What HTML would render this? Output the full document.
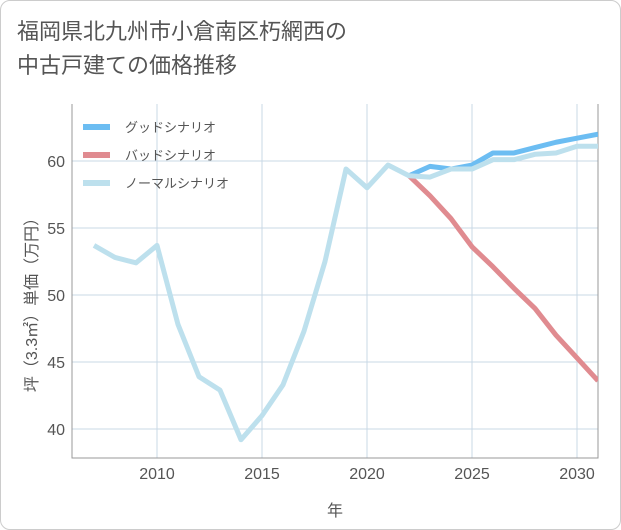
<!DOCTYPE html>
<html><head><meta charset="utf-8"><style>
body{margin:0;background:#fff;}
#card{position:absolute;left:0;top:0;width:619px;height:528px;border:1px solid #ccc;border-radius:10px;background:#fff;overflow:hidden;}
.t{font-family:"Liberation Sans","Noto Sans CJK JP",sans-serif;}
#title{position:absolute;left:16px;top:14px;font-size:22px;line-height:34px;color:#555;}
</style></head><body>
<div id="card">
<div id="title" class="t">福岡県北九州市小倉南区朽網西の<br>中古戸建ての価格推移</div>
<svg id="chart" width="621" height="530" style="position:absolute;left:0;top:0"></svg>
</div>
<script>
const years=[2007,2008,2009,2010,2011,2012,2013,2014,2015,2016,2017,2018,2019,2020,2021,2022,2023,2024,2025,2026,2027,2028,2029,2030,2031];
const normalValues=[53.7,52.8,52.4,53.7,47.8,43.9,42.9,39.2,41.0,43.3,47.3,52.5,59.4,58.0,59.7,58.9,58.8,59.4,59.4,60.1,60.1,60.5,60.6,61.1,61.1];
const futureYears=[2022,2023,2024,2025,2026,2027,2028,2029,2030,2031];
const goodValues=[58.9,59.6,59.4,59.7,60.6,60.6,61.0,61.4,61.7,62.0];
const badValues=[58.9,57.4,55.7,53.6,52.1,50.5,49.0,47.0,45.3,43.6];
const xTicks=[2010,2015,2020,2025,2030];
const yTicks=[40,45,50,55,60];
const L=71,R=597,T=103,B=457;
const X=y=>156+(y-2010)*21;
const Y=v=>160+(60-v)*13.4;
const NS="http://www.w3.org/2000/svg";
const svg=document.getElementById('chart');
function mk(tag,attrs,parent){const e=document.createElementNS(NS,tag);for(const k in attrs)e.setAttribute(k,attrs[k]);(parent||svg).appendChild(e);return e;}
const grid=mk('g',{});


xTicks.forEach(t=>{mk('line',{x1:X(t),x2:X(t),y1:T,y2:B,stroke:'#c9d9e6','stroke-width':1},grid);
const tx=mk('text',{x:X(t),y:478,'text-anchor':'middle','font-size':16,fill:'#555',class:'t'});tx.textContent=t;

});
yTicks.forEach(t=>{mk('line',{x1:L,x2:R,y1:Y(t),y2:Y(t),stroke:'#c9d9e6','stroke-width':1},grid);
const tx=mk('text',{x:64,y:Y(t)+6,'text-anchor':'end','font-size':16,fill:'#555',class:'t'});tx.textContent=t;

});
const ax=mk('path',{d:`M${L},${T}V${B}H${R}V${T}`,fill:'none',stroke:'#999','stroke-width':1});


function line(xs,vs,color,name){const p=mk('polyline',{points:xs.map((y,i)=>X(y)+','+Y(vs[i])).join(' '),fill:'none',stroke:color,'stroke-width':5,'stroke-linejoin':'round','clip-path':'url(#c)'});

}
const cp=mk('clipPath',{id:'c'});mk('rect',{x:L,y:T-5,width:R-L,height:B-T+10},cp);
line(futureYears,goodValues,'#6cbdf2','good-scenario-line');
line(futureYears,badValues,'#e08b90','bad-scenario-line');
line(years,normalValues,'#bde0ed','normal-scenario-line');
const legend=[['グッドシナリオ','#6cbdf2'],['バッドシナリオ','#e08b90'],['ノーマルシナリオ','#bde0ed']];
legend.forEach((l,i)=>{const g=mk('g',{});


const y=126+i*28;mk('line',{x1:82,x2:109,y1:y,y2:y,stroke:l[1],'stroke-width':6},g);
const tx=mk('text',{x:124,y:y+5,'font-size':13,fill:'#555',class:'t'},g);tx.textContent=l[0];});
const xt=mk('text',{x:334,y:515,'text-anchor':'middle','font-size':16,fill:'#555',class:'t'});xt.textContent='年';


const yt=mk('text',{x:0,y:0,transform:'translate(36,300) rotate(-90)','text-anchor':'middle','font-size':16,fill:'#555',class:'t'});yt.textContent='坪（3.3㎡）単価（万円）';


</script>
</body></html>
